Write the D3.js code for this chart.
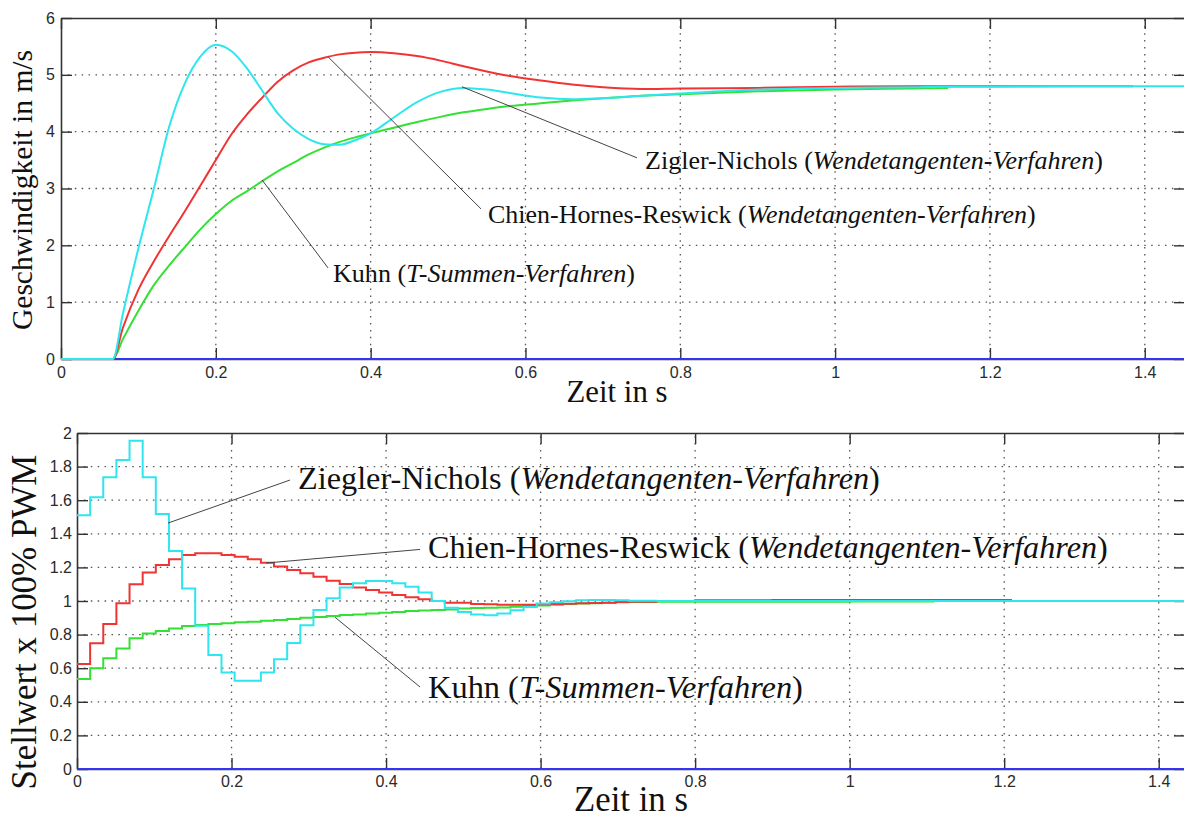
<!DOCTYPE html>
<html>
<head>
<meta charset="utf-8">
<title>Sprungantworten</title>
<script src="https://cdn.jsdelivr.net/npm/d3@7"></script>
<style>
    body { margin: 0; background: #fff; }
    .tick line { stroke: #333; stroke-width: 1.4px; }
    .domain { stroke: #333; stroke-width: 1.6px; }
    .grid { stroke: #555; stroke-width: 1.3px; stroke-dasharray: 1.5 5.4; }
    .serif { font-family: "Liberation Serif", "Times New Roman", serif; fill: #111; }
    .note { stroke: #444; stroke-width: 1px; }
</style>
</head>
<body>
<svg id="chart" width="1184" height="818"></svg>
<script>
// ---- top panel: speed (m/s) over time (s)
const tTop = [0, 0.067, 0.08, 0.1, 0.12, 0.14, 0.16, 0.18, 0.2, 0.22, 0.24, 0.26, 0.28, 0.3,
    0.32, 0.34, 0.36, 0.38, 0.4, 0.43, 0.46, 0.49, 0.52, 0.55, 0.58, 0.62, 0.66, 0.7, 0.75,
    0.8, 0.9, 1.0, 1.1, 1.146, 1.2, 1.3, 1.385, 1.452];
const speedZN = [0, 0, 0.8, 1.95, 3.0, 4.1, 4.85, 5.32, 5.53, 5.42, 5.12, 4.72, 4.32, 4.05,
    3.87, 3.78, 3.77, 3.85, 3.97, 4.25, 4.52, 4.7, 4.77, 4.74, 4.68, 4.6, 4.57, 4.59, 4.63,
    4.67, 4.74, 4.77, 4.78, 4.79, 4.79, 4.8, 4.8, 4.8];
const speedCHR = [0, 0, 0.55, 1.22, 1.72, 2.17, 2.6, 3.05, 3.5, 3.95, 4.3, 4.6, 4.88, 5.08,
    5.22, 5.3, 5.36, 5.39, 5.4, 5.38, 5.33, 5.25, 5.15, 5.06, 4.98, 4.9, 4.83, 4.78, 4.75,
    4.76, 4.77, 4.79, 4.8, 4.8, 4.8, 4.8, 4.8];
const speedKuhn = [0, 0, 0.35, 0.85, 1.3, 1.65, 1.97, 2.28, 2.55, 2.78, 2.95, 3.13, 3.3, 3.45,
    3.6, 3.72, 3.82, 3.9, 3.97, 4.07, 4.17, 4.26, 4.34, 4.4, 4.45, 4.5, 4.55, 4.59, 4.63,
    4.66, 4.71, 4.74, 4.76, 4.77];
const zeroTop = [0, 0];
const zeroTopTimes = [0, 1.452];

// ---- bottom panel: controller output (x 100% PWM), sample steps
const tBottom = [0, 0.017, 0.034, 0.051, 0.068, 0.085, 0.102, 0.119, 0.136, 0.153, 0.17,
    0.187, 0.204, 0.221, 0.238, 0.255, 0.272, 0.289, 0.306, 0.323, 0.34, 0.357, 0.374, 0.391,
    0.408, 0.425, 0.442, 0.459, 0.476, 0.493, 0.51, 0.527, 0.544, 0.561, 0.578, 0.595, 0.612,
    0.629, 0.646, 0.663, 0.68, 0.697, 0.714, 0.75, 0.8, 0.9, 1.0, 1.11, 1.21, 1.434];
const pwmZN = [1.51, 1.617, 1.736, 1.839, 1.954, 1.736, 1.518, 1.298, 1.075, 0.853, 0.679,
    0.575, 0.526, 0.526, 0.575, 0.653, 0.75, 0.855, 0.946, 1.016, 1.08, 1.105, 1.119, 1.119,
    1.105, 1.085, 1.05, 1.0, 0.96, 0.935, 0.92, 0.915, 0.925, 0.945, 0.965, 0.985, 0.992,
    0.998, 1.004, 1.006, 1.006, 1.004, 1.002, 1.0, 1.0, 1.0, 1.0, 1.0, 1.0, 1.0];
const pwmCHR = [0.625, 0.748, 0.863, 0.986, 1.1, 1.169, 1.214, 1.248, 1.274, 1.284, 1.284,
    1.274, 1.264, 1.248, 1.228, 1.206, 1.184, 1.165, 1.145, 1.121, 1.101, 1.08, 1.065, 1.05,
    1.036, 1.022, 1.01, 1.0, 0.99, 0.99, 0.982, 0.98, 0.978, 0.978, 0.978, 0.98, 0.982, 0.984,
    0.986, 0.988, 0.99, 0.994, 0.996, 1.0, 1.004, 1.006, 1.006, 1.006, 1.006];
const pwmKuhn = [0.536, 0.599, 0.659, 0.718, 0.778, 0.807, 0.821, 0.837, 0.851, 0.857, 0.863,
    0.867, 0.873, 0.877, 0.883, 0.887, 0.893, 0.901, 0.905, 0.91, 0.917, 0.92, 0.925, 0.93,
    0.935, 0.94, 0.943, 0.947, 0.95, 0.955, 0.958, 0.96, 0.962, 0.966, 0.97, 0.973, 0.978,
    0.982, 0.985, 0.987, 0.99, 0.992, 0.994, 0.995, 0.996, 0.996, 0.997, 0.997];
const zeroBottom = [0, 0];
const zeroBottomTimes = [0, 1.434];

// ticks
const xTicks = [0, 0.2, 0.4, 0.6, 0.8, 1, 1.2, 1.4];
const yTicksTop = [0, 1, 2, 3, 4, 5, 6];
const yTicksBottom = [0, 0.2, 0.4, 0.6, 0.8, 1, 1.2, 1.4, 1.6, 1.8, 2];

// series colours (MATLAB-ish)
const colours = { zero: "#3434f4", kuhn: "#33e033", chr: "#f03434", zn: "#2ee6ee" };

// annotations: leader line from a curve point to the label (data coords)
const notesTop = [
    { from: [0.518, 4.79], to: [0.744, 3.54], at: [0.7545, 3.345], width: 458,
      parts: [["Zigler-Nichols (", false], ["Wendetangenten-Verfahren", true], [")", false]] },
    { from: [0.345, 5.317], to: [0.5426, 2.641], at: [0.5517, 2.394], width: 548,
      parts: [["Chien-Hornes-Reswick (", false], ["Wendetangenten-Verfahren", true], [")", false]] },
    { from: [0.2597, 3.151], to: [0.345, 1.602], at: [0.3514, 1.356], width: 302,
      parts: [["Kuhn (", false], ["T-Summen-Verfahren", true], [")", false]] }
];
const notesBottom = [
    { from: [0.1178, 1.464], to: [0.2757, 1.72], at: [0.2861, 1.667], width: 582,
      parts: [["Ziegler-Nichols (", false], ["Wendetangenten-Verfahren", true], [")", false]] },
    { from: [0.2447, 1.226], to: [0.444, 1.307], at: [0.4544, 1.258], width: 680,
      parts: [["Chien-Hornes-Reswick (", false], ["Wendetangenten-Verfahren", true], [")", false]] },
    { from: [0.334, 0.903], to: [0.444, 0.488], at: [0.4544, 0.4226], width: 375,
      parts: [["Kuhn (", false], ["T-Summen-Verfahren", true], [")", false]] }
];

const svg = d3.select("#chart");
const fmt = d => String(+d.toFixed(2));

// set font size so the text gets the wanted width
function fitFont(text, width) {
    text.attr("font-size", 100);
    const w = text.node().getComputedTextLength();
    text.attr("font-size", 100 * width / w);
}

function panel(p) {
    const g = svg.append("g");
    const x = d3.scaleLinear().domain(p.xDomain).range(p.xRange);
    const y = d3.scaleLinear().domain(p.yDomain).range(p.yRange);

    // dotted grid
    g.selectAll(".gx").data(xTicks.filter(d => d > 0)).enter().append("line")
        .attr("class", "grid")
        .attr("x1", d => x(d)).attr("x2", d => x(d))
        .attr("y1", p.yRange[0]).attr("y2", p.yRange[1]);
    g.selectAll(".gy").data(p.yTicks.filter(d => d > 0 && d < p.yDomain[1])).enter().append("line")
        .attr("class", "grid")
        .attr("x1", p.xRange[0]).attr("x2", p.xRange[1])
        .attr("y1", d => y(d)).attr("y2", d => y(d));

    // axes, ticks pointing inward
    g.append("g").attr("class", "ax").attr("transform", `translate(0,${p.yRange[0]})`)
        .call(d3.axisBottom(x).tickValues(xTicks).tickFormat(fmt).tickSize(-11).tickSizeOuter(0).tickPadding(p.xPad));
    g.append("g").attr("transform", `translate(0,${p.yRange[1]})`)
        .call(d3.axisTop(x).tickValues(xTicks).tickFormat("").tickSize(-11).tickSizeOuter(0));
    g.append("g").attr("class", "ax").attr("transform", `translate(${p.xRange[0]},0)`)
        .call(d3.axisLeft(y).tickValues(p.yTicks).tickFormat(fmt).tickSize(-11).tickSizeOuter(0).tickPadding(p.yPad));
    g.append("g").attr("transform", `translate(${p.xRange[1]},0)`)
        .call(d3.axisRight(y).tickValues(p.yTicks).tickFormat("").tickSize(-11).tickSizeOuter(0));
    g.selectAll(".ax")
        .attr("font-family", "'Liberation Sans', Arial, sans-serif")
        .attr("font-size", 16)
        .selectAll("text").attr("fill", "#2a2a2a");

    // series
    const line = d3.line().x(d => x(d[0])).y(d => y(d[1])).curve(p.curve);
    p.series.forEach(s => {
        const pts = s.values.map((v, i) => [s.times[i], v]);
        g.append("path")
            .datum(pts)
            .attr("fill", "none")
            .attr("stroke", s.colour)
            .attr("stroke-width", 2)
            .attr("d", line);
    });

    // annotations
    p.notes.forEach(n => {
        g.append("line").attr("class", "note")
            .attr("x1", x(n.from[0])).attr("y1", y(n.from[1]))
            .attr("x2", x(n.to[0])).attr("y2", y(n.to[1]));
        const t = g.append("text").attr("class", "serif")
            .attr("x", x(n.at[0])).attr("y", y(n.at[1]));
        n.parts.forEach(q => t.append("tspan").attr("font-style", q[1] ? "italic" : "normal").text(q[0]));
        fitFont(t, n.width);
    });

    // axis titles
    const xt = g.append("text").attr("class", "serif").attr("text-anchor", "middle")
        .attr("x", p.xTitle.x).attr("y", p.xTitle.y).text("Zeit in s");
    fitFont(xt, p.xTitle.width);
    const yt = g.append("text").attr("class", "serif").attr("text-anchor", "middle")
        .attr("transform", `translate(${p.yTitle.x},${p.yTitle.y}) rotate(-90)`).text(p.yTitle.text);
    fitFont(yt, p.yTitle.width);
}

panel({
    xDomain: [0, 1.452], xRange: [61, 1185],
    yDomain: [0, 6], yRange: [359, 18],
    yTicks: yTicksTop, xPad: 8, yPad: 6,
    curve: d3.curveMonotoneX,
    series: [
        { values: zeroTop, times: zeroTopTimes, colour: colours.zero },
        { values: speedKuhn, times: tTop, colour: colours.kuhn },
        { values: speedCHR, times: tTop, colour: colours.chr },
        { values: speedZN, times: tTop, colour: colours.zn }
    ],
    notes: notesTop,
    xTitle: { x: 617, y: 402, width: 101 },
    yTitle: { x: 32, y: 190, width: 280, text: "Geschwindigkeit in m/s" }
});

panel({
    xDomain: [0, 1.434], xRange: [77, 1185],
    yDomain: [0, 2], yRange: [769, 433],
    yTicks: yTicksBottom, xPad: 7, yPad: 5,
    curve: d3.curveStepAfter,
    series: [
        { values: zeroBottom, times: zeroBottomTimes, colour: colours.zero },
        { values: pwmKuhn, times: tBottom, colour: colours.kuhn },
        { values: pwmCHR, times: tBottom, colour: colours.chr },
        { values: pwmZN, times: tBottom, colour: colours.zn }
    ],
    notes: notesBottom,
    xTitle: { x: 631, y: 811, width: 114 },
    yTitle: { x: 36, y: 622, width: 335, text: "Stellwert x 100% PWM" }
});
</script>
</body>
</html>
